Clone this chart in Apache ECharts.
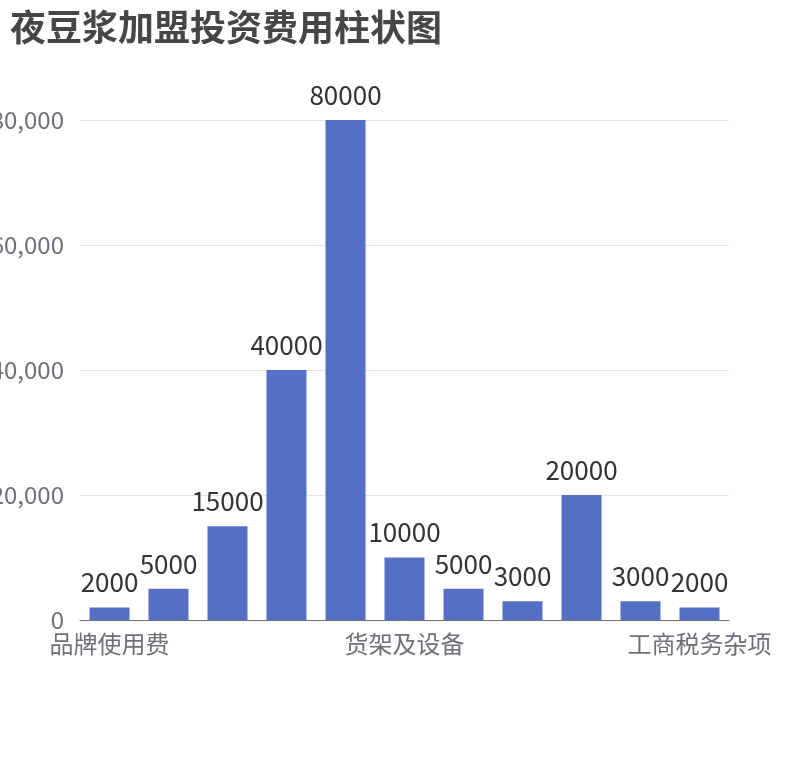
<!DOCTYPE html>
<html>
<head>
<meta charset="utf-8">
<script src="https://cdn.jsdelivr.net/npm/echarts@6/dist/echarts.min.js"></script>
<style>
html,body{margin:0;padding:0;background:#fff;}
#main{width:810px;height:760px;}
</style>
</head>
<body>
<div id="main"></div>
<script>
const titleText = '夜豆浆加盟投资费用柱状图';
const categories = ['品牌使用费','加盟费','保证金','店面装修','房租押金','货架及设备','首批原料','人员培训','流动资金','宣传推广','工商税务杂项'];
const values = [2000, 5000, 15000, 40000, 80000, 10000, 5000, 3000, 20000, 3000, 2000];
const yMax = 80000;
const yInterval = 20000;

const FONT = '"Noto Sans CJK SC", "Noto Sans", sans-serif';
const chart = echarts.init(document.getElementById('main'));
chart.setOption({
  animation: false,
  textStyle: { fontFamily: FONT },
  title: {
    text: titleText,
    left: 5,
    top: 4,
    textStyle: { fontSize: 36, fontWeight: 'bold', color: '#464646', fontFamily: FONT }
  },
  grid: { left: 80, right: 81, top: 120, bottom: 140, containLabel: false, outerBoundsMode: 'none' },
  xAxis: {
    type: 'category',
    data: categories,
    axisLabel: { interval: 4, fontSize: 24, color: '#6E7079', margin: 12, fontFamily: FONT },
    axisTick: { interval: 4 },
    axisLine: { lineStyle: { color: '#6E7079' } }
  },
  yAxis: {
    type: 'value',
    min: 0,
    max: yMax,
    interval: yInterval,
    axisLabel: { fontSize: 24, color: '#6E7079', margin: 16, fontFamily: FONT },
    splitLine: { lineStyle: { color: '#E0E6F1' } }
  },
  series: [{
    type: 'bar',
    data: values,
    barWidth: 40,
    itemStyle: { color: '#5470c6' },
    label: { show: true, position: 'top', distance: 12, fontSize: 26, color: '#333', fontFamily: FONT }
  }]
});
</script>
</body>
</html>
